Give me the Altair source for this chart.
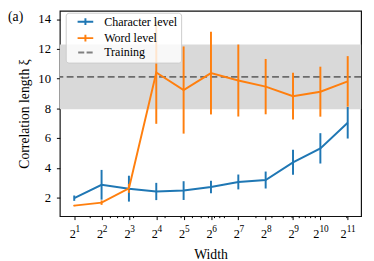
import altair as alt
import pandas as pd

widths = [2, 4, 8, 16, 32, 64, 128, 256, 512, 1024, 2048]
width_exponents = ["1", "2", "3", "4", "5", "6", "7", "8", "9", "10", "11"]
char_mean = [1.96, 2.86, 2.60, 2.41, 2.47, 2.71, 3.05, 3.18, 4.37, 5.31, 7.03]
char_err = [0.18, 1.00, 0.87, 0.58, 0.63, 0.42, 0.50, 0.57, 0.84, 1.02, 1.06]
word_mean = [1.46, 1.66, 2.62, 10.41, 9.23, 10.37, 9.87, 9.46, 8.82, 9.12, 9.81]
word_err = [0.05, 0.15, 0.30, 3.45, 2.93, 2.78, 2.42, 1.86, 1.57, 1.68, 1.70]
training_value = [10.12]
training_band = [7.94, 12.30]
minor_ticks = [3, 5, 6, 7, 9, 20, 30, 40, 50, 60, 70, 80, 90,
               200, 300, 400, 500, 600, 700, 800, 900, 2000]
series_names = ["Character level", "Word level", "Training"]
series_colors = ["#1f77b4", "#ff7f0e", "#808080"]

rows = []
for name, means, errs in [(series_names[0], char_mean, char_err),
                          (series_names[1], word_mean, word_err)]:
    for w, m, e in zip(widths, means, errs):
        rows.append({"series": name, "width": w, "mean": m, "lo": m - e, "hi": m + e})
df = pd.DataFrame(rows)
band_df = pd.DataFrame({"lo": [training_band[0]], "hi": [training_band[1]]})
train_df = pd.DataFrame({"v": training_value})
minor_df = pd.DataFrame({"width": minor_ticks})
tick_df = pd.DataFrame({"width": widths, "exp": width_exponents})
# legend-only rows, placed outside the x domain and clipped away
legend_df = pd.DataFrame({"series": series_names, "width": [1e6] * 3, "mean": [5] * 3})

W, H = 308, 210
xscale = alt.Scale(type="log", base=2, domain=[2 ** 0.474, 2 ** 11.49], nice=False)
yscale = alt.Scale(domain=[0.75, 14.56], nice=False, zero=False)

SERIF = "serif"

xaxis = alt.Axis(values=widths, title="Width", labels=False,
                 titleFont=SERIF, titleFontSize=14, titleFontWeight="normal",
                 titlePadding=28)
yaxis = alt.Axis(values=[2, 4, 6, 8, 10, 12, 14], title="Correlation length ξ",
                 labelFont=SERIF, labelFontSize=13, labelPadding=6, labelOverlap=False,
                 titleFont=SERIF, titleFontSize=14, titleFontWeight="normal",
                 titlePadding=7)

plus_path = "M-2,0H2M0,-0.85V0.85"
dash_path = "M-1.85,0H-0.3M0.3,0H1.85"
legend = alt.Legend(
    title=None, orient="none", legendX=6, legendY=2,
    symbolSize=64, symbolStrokeWidth=2,
    symbolOffset=11, labelOffset=13,
    labelFont=SERIF, labelFontSize=12.3, labelColor="black",
    padding=3, rowPadding=0.8, symbolOpacity=1,
    fillColor="rgba(255,255,255,0.8)", strokeColor="#cccccc", cornerRadius=3,
)
cscale = alt.Scale(domain=series_names, range=series_colors)
sscale = alt.Scale(domain=series_names, range=[plus_path, plus_path, dash_path])

band = alt.Chart(band_df).mark_rect(color="#d9d9d9").encode(
    y=alt.Y("lo:Q", scale=yscale, axis=yaxis), y2="hi:Q")
train = alt.Chart(train_df).mark_rule(color="black", opacity=0.5, strokeDash=[7, 3.5],
                                      strokeWidth=1.8).encode(
    y=alt.Y("v:Q", scale=yscale, axis=yaxis))
err = alt.Chart(df).mark_rule(strokeWidth=2).encode(
    x=alt.X("width:Q", scale=xscale, axis=xaxis),
    y=alt.Y("lo:Q", scale=yscale, axis=yaxis), y2="hi:Q",
    color=alt.Color("series:N", scale=cscale, legend=legend))
line = alt.Chart(df).mark_line(strokeWidth=2).encode(
    x=alt.X("width:Q", scale=xscale, axis=xaxis),
    y=alt.Y("mean:Q", scale=yscale, axis=yaxis),
    color=alt.Color("series:N", scale=cscale, legend=legend))
leg = alt.Chart(legend_df).mark_point(filled=False, strokeWidth=2, clip=True).encode(
    x=alt.X("width:Q", scale=xscale, axis=xaxis),
    y=alt.Y("mean:Q", scale=yscale, axis=yaxis),
    color=alt.Color("series:N", scale=cscale, legend=legend),
    shape=alt.Shape("series:N", scale=sscale, legend=legend))
minor = alt.Chart(minor_df).mark_rule(color="black", strokeWidth=1).encode(
    x=alt.X("width:Q", scale=xscale, axis=xaxis),
    y=alt.value(H), y2=alt.value(H + 2))


def tick_labels(short, dx_base, dx_exp):
    src = alt.Chart(tick_df).transform_filter(
        "length(datum.exp) == 1" if short else "length(datum.exp) > 1")
    base = src.mark_text(text="2", font=SERIF, fontSize=12.5, align="right",
                         baseline="alphabetic", dx=dx_base, color="black").encode(
        x=alt.X("width:Q", scale=xscale, axis=xaxis), y=alt.value(H + 22))
    expo = src.mark_text(font=SERIF, fontSize=9.5, align="left",
                         baseline="alphabetic", dx=dx_exp, color="black").encode(
        x=alt.X("width:Q", scale=xscale, axis=xaxis), y=alt.value(H + 16), text="exp:N")
    return [base, expo]


label = alt.Chart(pd.DataFrame({"t": ["(a)"]})).mark_text(
    font=SERIF, fontSize=14, align="left", baseline="middle").encode(
    x=alt.value(-53), y=alt.value(6.5), text="t:N")

chart = alt.layer(leg, band, train, err, line, minor,
                  *tick_labels(True, 1.6, 1.3), *tick_labels(False, -1.0, -1.0),
                  label).properties(
    width=W, height=H, autosize="none",
    padding={"left": 53, "top": 0, "right": 5, "bottom": 43},
).configure_view(stroke="#111", strokeWidth=1.2).configure_axis(
    domain=False, grid=False, tickColor="black", tickSize=3.5, labelColor="black",
    titleColor="black")

chart.save("out.html", embed_options={"renderer": "svg", "actions": False})
